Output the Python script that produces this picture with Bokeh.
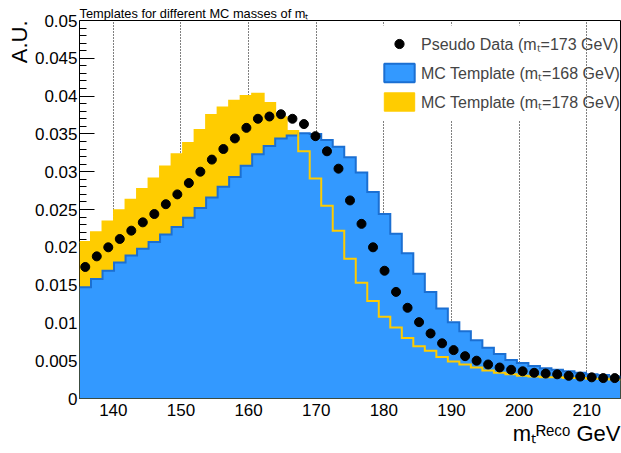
import numpy as np
from bokeh.plotting import figure
from bokeh.models import (Range1d, FixedTicker, Legend, LegendItem, Title,
                          BoxAnnotation, NumeralTickFormatter, LinearAxis)
from bokeh.embed import file_html
from bokeh.resources import INLINE

# ---------------- data ----------------
x_lo, x_hi, n_bins = 135.0, 215.0, 47

pseudo_data_173 = [
    0.0174, 0.0188, 0.0200, 0.0211, 0.0222, 0.0233, 0.0244, 0.0257, 0.0270, 0.0285,
    0.0300, 0.0316, 0.0330, 0.0344, 0.0358, 0.0370, 0.0373, 0.0376, 0.0370, 0.0363,
    0.0347, 0.0327, 0.0304, 0.0262, 0.0231, 0.0200, 0.0169, 0.0141, 0.0120, 0.0101,
    0.0086, 0.0073, 0.0064, 0.0056, 0.0050, 0.0045, 0.0041, 0.0038, 0.0036, 0.0034,
    0.0033, 0.0032, 0.0030, 0.0029, 0.0028, 0.0027, 0.0027]

template_168 = [
    0.0147, 0.0158, 0.0169, 0.0180, 0.0189, 0.0198, 0.0207, 0.0217, 0.0227, 0.0239,
    0.0252, 0.0266, 0.0280, 0.0293, 0.0308, 0.0323, 0.0334, 0.0344, 0.0348, 0.0351,
    0.0350, 0.0342, 0.0333, 0.0319, 0.0299, 0.0273, 0.0244, 0.0218, 0.0192, 0.0165,
    0.0141, 0.0119, 0.0101, 0.0089, 0.0077, 0.0067, 0.0059, 0.0051, 0.0047, 0.0043,
    0.0040, 0.0038, 0.0036, 0.0034, 0.0032, 0.0031, 0.0029]

template_178 = [
    0.0207, 0.0220, 0.0234, 0.0249, 0.0263, 0.0277, 0.0291, 0.0307, 0.0323, 0.0338,
    0.0355, 0.0375, 0.0385, 0.0394, 0.0400, 0.0403, 0.0391, 0.0372, 0.0354, 0.0327,
    0.0291, 0.0255, 0.0222, 0.0185, 0.0153, 0.0129, 0.0108, 0.0094, 0.0080, 0.0069,
    0.0063, 0.0055, 0.0049, 0.0045, 0.0041, 0.0037, 0.0034, 0.0032, 0.0030, 0.0029,
    0.0028, 0.0028, 0.0027, 0.0027, 0.0026, 0.0026, 0.0025]

x_ticks = [140, 150, 160, 170, 180, 190, 200, 210]
x_tick_labels = ["140", "150", "160", "170", "180", "190", "200", "210"]
y_ticks = [0.0, 0.005, 0.01, 0.015, 0.02, 0.025, 0.03, 0.035, 0.04, 0.045, 0.05]
y_tick_labels = ["0", "0.005", "0.01", "0.015", "0.02", "0.025", "0.03",
                 "0.035", "0.04", "0.045", "0.05"]
y_minor_step = 0.001

title_text = "Templates for different MC masses of m\u209c"
x_title = "m\u209c\u1d3f\u1d49\u1d9c\u1d52 GeV"
y_title = "A.U."
legend_labels = ["Pseudo Data (m\u209c=173 GeV)",
                 "MC Template (m\u209c=168 GeV)",
                 "MC Template (m\u209c=178 GeV)"]

# ---------------- derived ----------------
edges = np.linspace(x_lo, x_hi, n_bins + 1)
centers = 0.5 * (edges[:-1] + edges[1:])
y_minor = [round(v, 4) for v in np.arange(0.0, 0.05 + 1e-9, y_minor_step)]


def ext(v):
    return list(v) + [v[-1]]


y_lo, y_hi = 0.0, 0.05
# frame in page pixels
FL, FR, FT, FB = 79.0, 620.0, 20.0, 398.0


def dx(px):
    return x_lo + (px - FL) * (x_hi - x_lo) / (FR - FL)


def dy(py):
    return y_lo + (FB - py) * (y_hi - y_lo) / (FB - FT)


FONT = "Liberation Sans"
BLUE = "#3399ff"
BLUE_LINE = "#1b6fd2"
YELLOW = "#ffcc00"

p = figure(width=621, height=453, x_range=Range1d(x_lo, x_hi),
           y_range=Range1d(y_lo, y_hi), output_backend="svg",
           toolbar_location=None, title=None,
           min_border_left=79, min_border_right=1,
           min_border_top=20, min_border_bottom=55)
p.background_fill_color = "white"
p.border_fill_color = "white"
p.outline_line_color = "black"
p.outline_line_width = 1

# grid
p.ygrid.visible = False
p.xgrid.ticker = FixedTicker(ticks=x_ticks)
p.xgrid.grid_line_color = "black"
p.xgrid.grid_line_dash = "1 2"
p.xgrid.grid_line_width = 1

# histograms
yellow_fill = p.varea_step(x=edges, y1=0, y2=ext(template_178), step_mode="after",
                           fill_color=YELLOW)
blue_fill = p.varea_step(x=edges, y1=0, y2=ext(template_168), step_mode="after",
                         fill_color=BLUE)
blue_line = p.step(x=edges, y=ext(template_168), mode="after",
                   line_color=BLUE_LINE, line_width=2, line_join="miter")
yellow_line = p.step(x=edges, y=ext(template_178), mode="after",
                     line_color=YELLOW, line_width=2, line_join="miter")
data_r = p.scatter(x=centers, y=pseudo_data_173, size=9, fill_color="black",
                   line_color="black")

# legend key renderers (nothing drawn on the plot)
nan = [float("nan")]
blue_key = p.quad(left=nan, right=nan, top=nan, bottom=nan, fill_color=BLUE,
                  line_color=BLUE_LINE, line_width=2)
yellow_key = p.quad(left=nan, right=nan, top=nan, bottom=nan, fill_color=YELLOW,
                    line_color=YELLOW, line_width=1)

# ---- axes ----
xax = p.xaxis[0]
xax.ticker = FixedTicker(ticks=x_ticks)
xax.major_label_overrides = {t: l for t, l in zip(x_ticks, x_tick_labels)}
xax.axis_line_color = None
xax.major_tick_in = 0
xax.major_tick_out = 0
xax.minor_tick_line_color = None
xax.major_label_standoff = 5
xax.major_label_text_font = FONT
xax.major_label_text_font_size = "17px"
xax.major_label_text_color = "black"

# inner y axis: tick marks only, drawn beneath the histograms
yin = p.yaxis[0]
yin.ticker = FixedTicker(ticks=y_ticks, minor_ticks=y_minor)
yin.level = "underlay"
yin.axis_line_color = None
yin.major_tick_in = 15
yin.major_tick_out = 0
yin.minor_tick_in = 7
yin.minor_tick_out = 0
yin.major_tick_line_color = "black"
yin.minor_tick_line_color = "black"
yin.major_label_text_font_size = "0px"
yin.major_label_standoff = 0
yin.major_label_overrides = {t: "" for t in y_ticks}

# outer y axis: labels only
yout = LinearAxis(ticker=FixedTicker(ticks=y_ticks),
                  formatter=NumeralTickFormatter(format="0.[000]"))
yout.major_label_overrides = {t: l for t, l in zip(y_ticks, y_tick_labels)}
yout.axis_line_color = None
yout.major_tick_in = 0
yout.major_tick_out = 0
yout.minor_tick_line_color = None
yout.major_tick_line_color = None
yout.major_label_standoff = 2
yout.major_label_text_font = FONT
yout.major_label_text_font_size = "17px"
yout.major_label_text_color = "black"
p.add_layout(yout, "left")

# titles (in the side panels, so they are never clipped by the frame)
p.add_layout(Title(text=title_text, align="left", text_font=FONT,
                   text_font_size="12.8px", text_font_style="normal",
                   text_color="black", standoff=0, offset=0), "above")
p.add_layout(Title(text=y_title, align="right", text_font=FONT,
                   text_font_size="22px", text_font_style="normal",
                   text_color="black", standoff=0, offset=0), "left")
p.add_layout(Title(text=x_title, align="right", text_font=FONT,
                   text_font_size="22px", text_font_style="normal",
                   text_color="black", standoff=0, offset=0), "below")

# white panel behind legend (hides grid lines there)
p.add_layout(BoxAnnotation(left=dx(376), right=dx(560), top=dy(25), bottom=dy(120),
                           fill_color="white", fill_alpha=1.0, line_color=None))

legend = Legend(items=[LegendItem(label=legend_labels[0], renderers=[data_r]),
                       LegendItem(label=legend_labels[1], renderers=[blue_key]),
                       LegendItem(label=legend_labels[2], renderers=[yellow_key])],
                location=(301, 285), orientation="vertical",
                glyph_width=38, glyph_height=23, label_height=23, spacing=6,
                padding=0, margin=0, label_standoff=3,
                border_line_color=None, background_fill_alpha=0,
                label_text_font=FONT, label_text_font_size="16px")
p.add_layout(legend)

open("out.html", "w").write(file_html(p, INLINE))
